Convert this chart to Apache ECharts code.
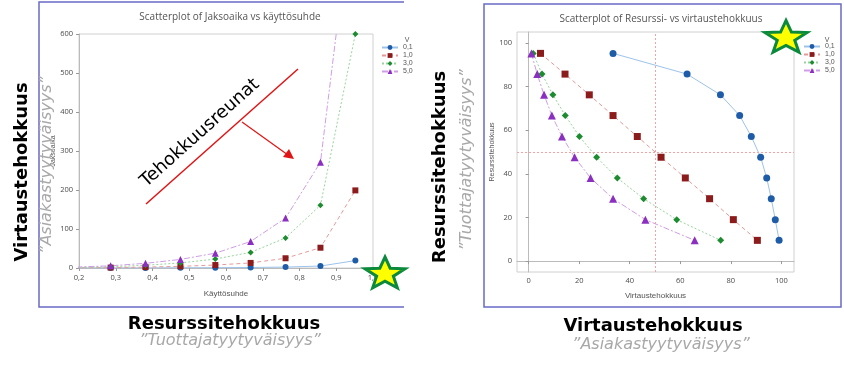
<!DOCTYPE html>
<html><head><meta charset="utf-8">
<script src="https://cdn.jsdelivr.net/npm/echarts@6/dist/echarts.min.js"></script>
<style>html,body{margin:0;padding:0;background:#fff}#c{width:844px;height:370px}</style>
</head><body><div id="c"></div>
<script>
// ---- data ----
const vLabels = ['0,1', '1,0', '3,0', '5,0'];
const utilization = [0.095, 0.190, 0.286, 0.381, 0.476, 0.571, 0.667, 0.762, 0.857, 0.952];
const leadTime01 = [0.0, 0.0, 0.1, 0.2, 0.4, 0.8, 1.3, 2.4, 5, 19];
const leadTime10 = [0.1, 0.4, 1.1, 2.3, 4.3, 7.6, 13, 25, 52, 199];
const leadTime30 = [0.3, 1.3, 3.4, 7, 13, 23, 40, 77, 161, 600];
const leadTime50 = [0.5, 2.2, 5.7, 12, 22, 38, 68, 128, 271, 1000];
const resourceEff = [95.2, 85.7, 76.2, 66.7, 57.1, 47.6, 38.1, 28.6, 19.0, 9.5];
const flowEff01 = [33.4, 62.7, 75.9, 83.5, 88.1, 91.8, 94.2, 96.0, 97.6, 99.1];
const flowEff10 = [4.7, 14.4, 24.0, 33.4, 43.0, 52.4, 62.0, 71.6, 81.0, 90.5];
const flowEff30 = [1.8, 5.3, 9.6, 14.5, 20.1, 26.9, 35.1, 45.5, 58.6, 76.0];
const flowEff50 = [1.1, 3.4, 6.1, 9.2, 13.2, 18.2, 24.5, 33.4, 46.2, 65.7];
const rightTicks = [0, 20, 40, 60, 80, 100];
const refLineValue = 50;

// ---- styles ----
const styles = [
  {symbol: 'circle',   color: '#1f5ca8', line: '#9dc3ea', type: 'solid'},
  {symbol: 'rect',     color: '#8c1c1c', line: '#e59a9a', type: [4, 3]},
  {symbol: 'diamond',  color: '#1d8b2f', line: '#98d49c', type: [2, 2]},
  {symbol: 'triangle', color: '#8a2fc0', line: '#cf9ee6', type: [6, 2, 2, 2]}
];
const leftSets = [leadTime01, leadTime10, leadTime30, leadTime50];
const rightSets = [flowEff01, flowEff10, flowEff30, flowEff50];

const series = [];
leftSets.forEach((vals, i) => {
  const s = styles[i];
  series.push({
    name: vLabels[i], type: 'line', xAxisIndex: 0, yAxisIndex: 0,
    data: utilization.map((u, k) => [u, vals[k]]),
    symbol: s.symbol, symbolSize: s.symbol === 'triangle' ? 7 : 6,
    itemStyle: {color: s.color},
    lineStyle: {color: s.line, width: 1, type: s.type},
    clip: true, z: 3
  });
});
rightSets.forEach((vals, i) => {
  const s = styles[i];
  series.push({
    name: vLabels[i], type: 'line', xAxisIndex: 1, yAxisIndex: 1,
    data: vals.map((v, k) => [v, resourceEff[k]]),
    symbol: s.symbol, symbolSize: s.symbol === 'triangle' ? 8 : 7,
    itemStyle: {color: s.color},
    lineStyle: {color: s.line, width: 1, type: s.type},
    z: 3,
    markLine: i === 0 ? {
      silent: true, symbol: 'none', label: {show: false}, animation: false,
      lineStyle: {color: '#f2a3a3', width: 1, type: [2, 2]},
      data: [{xAxis: refLineValue}, {yAxis: refLineValue}]
    } : undefined
  });
});

function star(cx, cy, rx, ry) {
  const pts = [];
  for (let i = 0; i < 10; i++) {
    const a = -Math.PI / 2 + i * Math.PI / 5;
    const r = i % 2 === 0 ? 1 : 0.42;
    pts.push([cx + rx * r * Math.cos(a), cy + ry * r * Math.sin(a)]);
  }
  return {type: 'polygon', z: 100, shape: {points: pts},
    style: {fill: '#ffff00', stroke: '#0b8a3c', lineWidth: 3, lineJoin: 'miter'}};
}
function txt(x, y, text, font, fill, rot) {
  return {type: 'text', x: x, y: y, rotation: rot || 0, z: 100,
    style: {text: text, font: font, fill: fill, textAlign: 'center', textVerticalAlign: 'middle', x: 0, y: 0}};
}
const boxColor = '#6a6ac8';
const bold = 'bold 18px "DejaVu Sans"';
const ital = 'italic 16px "DejaVu Sans"';
const grey = '#a8a8a8';

const axisFont = {fontSize: 7.5, color: '#4a4a4a', fontFamily: 'Open Sans'};
const option = {
  animation: false,
  backgroundColor: '#fff',
  title: [
    {text: 'Scatterplot of Jaksoaika vs käyttösuhde', left: 230, top: 12, textAlign: 'center', padding: 0,
     textStyle: {fontSize: 10, fontWeight: 'normal', color: '#555', fontFamily: 'Open Sans'}},
    {text: 'Scatterplot of Resurssi- vs virtaustehokkuus', left: 661, top: 14, textAlign: 'center', padding: 0,
     textStyle: {fontSize: 10, fontWeight: 'normal', color: '#555', fontFamily: 'Open Sans'}}
  ],
  legend: [
    {data: vLabels, orient: 'vertical', left: 381, top: 44, itemWidth: 16, itemHeight: 6, itemGap: 1, padding: 0,
     selectedMode: false, textStyle: {fontSize: 7, color: '#555'}},
    {data: vLabels, orient: 'vertical', left: 803, top: 43, itemWidth: 16, itemHeight: 6, itemGap: 1, padding: 0,
     selectedMode: false, textStyle: {fontSize: 7, color: '#555'}}
  ],
  grid: [
    {left: 79, top: 34, width: 294, height: 234, show: true, borderColor: '#d0d0d0', borderWidth: 1},
    {left: 517, top: 32, width: 277, height: 240, show: true, borderColor: '#d0d0d0', borderWidth: 1}
  ],
  xAxis: [
    {gridIndex: 0, type: 'value', min: 0.2, max: 1.0, interval: 0.1,
     name: 'Käyttösuhde', nameLocation: 'middle', nameGap: 22,
     nameTextStyle: {fontSize: 8, color: '#555'},
     axisLine: {lineStyle: {color: '#bbb'}}, axisTick: {length: 3, lineStyle: {color: '#999'}},
     splitLine: {show: false},
     axisLabel: Object.assign({margin: 6, formatter: v => v.toFixed(1).replace('.', ',')}, axisFont)},
    {gridIndex: 1, type: 'value', min: -4.6, max: 105,
     name: 'Virtaustehokkuus', nameLocation: 'middle', nameGap: 20,
     nameTextStyle: {fontSize: 8, color: '#555'},
     axisLine: {lineStyle: {color: '#bbb'}}, axisTick: {length: 3, customValues: rightTicks, lineStyle: {color: '#999'}},
     splitLine: {show: false},
     axisLabel: Object.assign({margin: 5, customValues: rightTicks}, axisFont)}
  ],
  yAxis: [
    {gridIndex: 0, type: 'value', min: 0, max: 600, interval: 100,
     name: 'Jaksoaika', nameLocation: 'middle', nameGap: 18, nameRotate: 90,
     nameTextStyle: {fontSize: 7, color: '#555'},
     axisLine: {show: true, lineStyle: {color: '#bbb'}}, axisTick: {show: true, length: 3, lineStyle: {color: '#999'}},
     splitLine: {show: false},
     axisLabel: Object.assign({margin: 6}, axisFont)},
    {gridIndex: 1, type: 'value', min: -5, max: 105,
     name: 'Resurssitehokkuus', nameLocation: 'middle', nameGap: 17, nameRotate: 90,
     nameTextStyle: {fontSize: 7, color: '#555'},
     axisLine: {show: true, lineStyle: {color: '#bbb'}}, axisTick: {show: true, length: 3, customValues: rightTicks, lineStyle: {color: '#999'}},
     splitLine: {show: false},
     axisLabel: Object.assign({margin: 5, customValues: rightTicks}, axisFont)}
  ],
  series: series,
  graphic: [
    {type: 'polyline', z: 90, shape: {points: [[404, 2], [39, 2], [39, 307], [404, 307]]}, style: {fill: 'none', stroke: boxColor, lineWidth: 1.5}},
    {type: 'rect', z: 90, shape: {x: 484, y: 4, width: 357, height: 303}, style: {fill: 'none', stroke: boxColor, lineWidth: 1.5}},
    txt(407, 40, 'V', '7px sans-serif', '#555'),
    txt(827, 40, 'V', '7px sans-serif', '#555'),
    // side labels
    txt(22, 172, 'Virtaustehokkuus', bold, '#000', Math.PI / 2),
    txt(47, 165, '”Asiakastyytyväisyys”', ital, grey, Math.PI / 2),
    txt(440, 167, 'Resurssitehokkuus', bold, '#000', Math.PI / 2),
    txt(467, 160, '”Tuottajatyytyväisyys”', ital, grey, Math.PI / 2),
    // bottom labels
    txt(224, 324, 'Resurssitehokkuus', bold, '#000'),
    txt(230, 341, '”Tuottajatyytyväisyys”', ital, grey),
    txt(653, 326, 'Virtaustehokkuus', bold, '#000'),
    txt(661, 345, '”Asiakastyytyväisyys”', ital, grey),
    // efficiency frontier annotation
    {type: 'line', z: 95, shape: {x1: 146, y1: 204, x2: 298, y2: 69}, style: {stroke: '#e01414', lineWidth: 1.5}},
    {type: 'line', z: 95, shape: {x1: 242, y1: 122, x2: 288, y2: 155}, style: {stroke: '#e01414', lineWidth: 1.2}},
    {type: 'polygon', z: 95, shape: {points: [[294, 159], [283, 157], [289, 149]]}, style: {fill: '#e01414'}},
    txt(200, 133, 'Tehokkuusreunat', '18px "DejaVu Sans"', '#000', 0.73),
    star(385, 274, 21, 17),
    star(786, 38, 22, 17.5)
  ]
};
const chart = echarts.init(document.getElementById('c'), null, {renderer: 'canvas'});
chart.setOption(option);
</script></body></html>
